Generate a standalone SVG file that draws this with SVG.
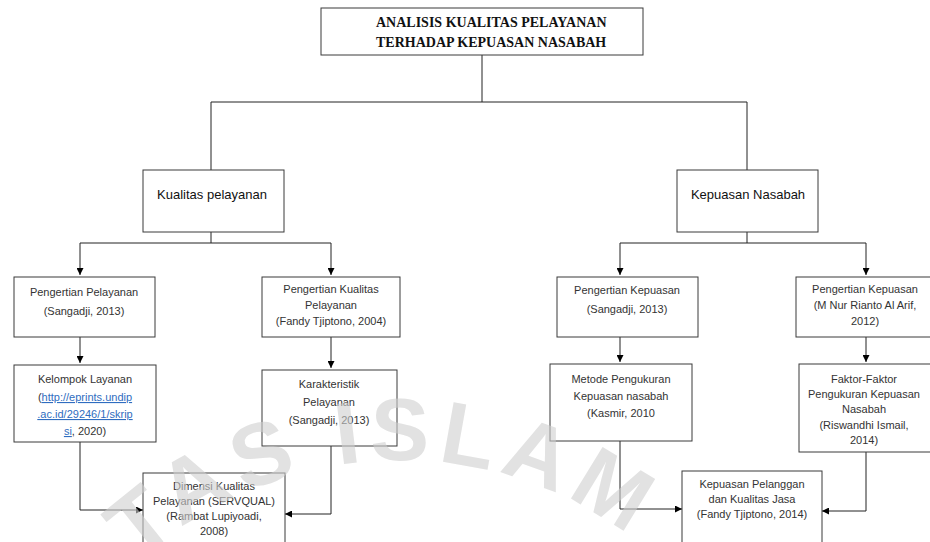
<svg xmlns="http://www.w3.org/2000/svg" width="930" height="542" viewBox="0 0 930 542">
<defs>
<marker id="ah" viewBox="0 0 10 10" refX="10" refY="5" markerWidth="7" markerHeight="7" orient="auto" markerUnits="userSpaceOnUse"><path d="M0,0 L10,5 L0,10 z" fill="#000"/></marker>
<path id="arc" d="M 15,845 A 385,385 0 0 1 785,845"/>
</defs>
<style>
.box{fill:#fff;stroke:#3a3a3a;stroke-width:1}
.t{font-family:"Liberation Sans",Arial,sans-serif;font-size:11px;fill:#333;text-anchor:middle}
.m{font-family:"Liberation Sans",Arial,sans-serif;font-size:13px;fill:#111;text-anchor:middle}
.h{font-family:"Liberation Serif","Times New Roman",serif;font-size:14px;font-weight:bold;fill:#111}
.c{fill:none;stroke:#222;stroke-width:1}
.lnk{fill:#2f6dc0;text-decoration:underline}
.wm{font-family:"Liberation Sans",Arial,sans-serif;font-size:88px;font-weight:bold;fill:#cfcfcf;opacity:0.6;letter-spacing:8px;text-anchor:middle}
</style>
<rect width="930" height="542" fill="#fff"/>
<g id="connectors">
<path class="c" d="M482,55 V102 M211,102 H747 M211,102 V170 M747,102 V170"/>
<path class="c" d="M211,232 V243 M80,243 H331"/>
<path class="c" d="M80,243 V275" marker-end="url(#ah)"/>
<path class="c" d="M331,243 V275" marker-end="url(#ah)"/>
<path class="c" d="M747,232 V243 M620,243 H866"/>
<path class="c" d="M620,243 V275" marker-end="url(#ah)"/>
<path class="c" d="M866,243 V275" marker-end="url(#ah)"/>
<path class="c" d="M80,337 V363" marker-end="url(#ah)"/>
<path class="c" d="M331,337 V368" marker-end="url(#ah)"/>
<path class="c" d="M620,337 V362" marker-end="url(#ah)"/>
<path class="c" d="M866,337 V362" marker-end="url(#ah)"/>
<path class="c" d="M80,442 V510 H143" marker-end="url(#ah)"/>
<path class="c" d="M331,446 V514 H285" marker-end="url(#ah)"/>
<path class="c" d="M620,441 V509 H682" marker-end="url(#ah)"/>
<path class="c" d="M866,452 V511 H822" marker-end="url(#ah)"/>
</g>
<g id="title">
<rect class="box" x="321" y="8" width="322" height="47"/>
<text class="h" x="376" y="27">ANALISIS KUALITAS PELAYANAN</text>
<text class="h" x="376" y="47">TERHADAP KEPUASAN NASABAH</text>
</g>
<g id="kualitas">
<rect class="box" x="143" y="170" width="141" height="62"/>
<text class="m" x="212" y="199">Kualitas pelayanan</text>
</g>
<g id="kepuasan">
<rect class="box" x="677" y="170" width="141" height="62"/>
<text class="m" x="748" y="199">Kepuasan Nasabah</text>
</g>
<g id="pengertian-pelayanan">
<rect class="box" x="14" y="277" width="141" height="60"/>
<text class="t" x="84" y="296">Pengertian Pelayanan</text>
<text class="t" x="84" y="315">(Sangadji, 2013)</text>
</g>
<g id="pengertian-kualitas">
<rect class="box" x="262" y="277" width="138" height="60"/>
<text class="t" x="331" y="293">Pengertian Kualitas</text>
<text class="t" x="331" y="309">Pelayanan</text>
<text class="t" x="331" y="325">(Fandy Tjiptono, 2004)</text>
</g>
<g id="pengertian-kepuasan-1">
<rect class="box" x="557" y="277" width="141" height="60"/>
<text class="t" x="627" y="294">Pengertian Kepuasan</text>
<text class="t" x="627" y="313">(Sangadji, 2013)</text>
</g>
<g id="pengertian-kepuasan-2">
<rect class="box" x="796" y="277" width="140" height="60"/>
<text class="t" x="865" y="293">Pengertian Kepuasan</text>
<text class="t" x="865" y="309">(M Nur Rianto Al Arif,</text>
<text class="t" x="865" y="325">2012)</text>
</g>
<g id="kelompok">
<rect class="box" x="14" y="365" width="142" height="77"/>
<text class="t" x="85" y="383">Kelompok Layanan</text>
<text class="t" x="85" y="401">(<tspan class="lnk">http://eprints.undip</tspan></text>
<text class="t" x="85" y="418"><tspan class="lnk">.ac.id/29246/1/skrip</tspan></text>
<text class="t" x="85" y="435"><tspan class="lnk">si</tspan>, 2020)</text>
</g>
<g id="karakteristik">
<rect class="box" x="262" y="370" width="135" height="76"/>
<text class="t" x="329" y="388">Karakteristik</text>
<text class="t" x="329" y="406">Pelayanan</text>
<text class="t" x="329" y="424">(Sangadji, 2013)</text>
</g>
<g id="metode">
<rect class="box" x="550" y="364" width="142" height="77"/>
<text class="t" x="621" y="383">Metode Pengukuran</text>
<text class="t" x="621" y="400">Kepuasan nasabah</text>
<text class="t" x="621" y="417">(Kasmir, 2010</text>
</g>
<g id="faktor">
<rect class="box" x="799" y="364" width="137" height="88"/>
<text class="t" x="864" y="383">Faktor-Faktor</text>
<text class="t" x="864" y="398">Pengukuran Kepuasan</text>
<text class="t" x="864" y="413">Nasabah</text>
<text class="t" x="864" y="429">(Riswandhi Ismail,</text>
<text class="t" x="864" y="444">2014)</text>
</g>
<g id="dimensi">
<rect class="box" x="143" y="473" width="142" height="80"/>
<text class="t" x="214" y="490">Dimensi Kualitas</text>
<text class="t" x="214" y="505">Pelayanan (SERVQUAL)</text>
<text class="t" x="214" y="520">(Rambat Lupiyoadi,</text>
<text class="t" x="214" y="535">2008)</text>
</g>
<g id="kepuasan-pelanggan">
<rect class="box" x="682" y="471" width="140" height="80"/>
<text class="t" x="752" y="488">Kepuasan Pelanggan</text>
<text class="t" x="752" y="503">dan Kualitas Jasa</text>
<text class="t" x="752" y="518">(Fandy Tjiptono, 2014)</text>
</g>
<g id="watermark">
<text class="wm"><textPath href="#arc" startOffset="48.5%">TAS ISLAM</textPath></text>
</g>
</svg>
